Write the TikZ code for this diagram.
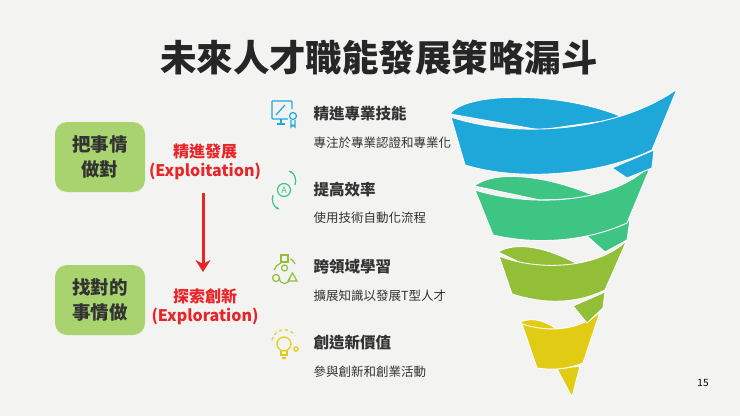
\documentclass[tikz,border=0pt]{standalone}
\usepackage{fontspec}
\setmainfont{Noto Sans CJK TC}
\usetikzlibrary{arrows.meta}
\definecolor{bg}{HTML}{F3F3F2}
\definecolor{fblue}{HTML}{1EA8DA}
\definecolor{fgreen}{HTML}{3EC584}
\definecolor{fyg}{HTML}{93BE38}
\definecolor{fyel}{HTML}{E2CB14}
\definecolor{boxg}{HTML}{A8D36E}
\definecolor{tred}{HTML}{E8262A}
\definecolor{tdark}{HTML}{333333}
\tikzset{
 band/.style={draw=white,line width=0.9pt,line join=round},
 gbox/.style={fill=boxg,rounded corners=12pt,minimum width=90pt,minimum height=70pt,align=center,font=\fontsize{18.5}{25}\selectfont\bfseries,text=tdark},
 redlab/.style={text=tred,font=\fontsize{16}{19}\selectfont\bfseries,align=center},
 itemt/.style={anchor=west,text=tdark,font=\fontsize{15.5}{18}\selectfont\bfseries},
 items/.style={anchor=west,text=tdark,font=\fontsize{12.5}{14}\selectfont},
 ic/.style={line width=1.2pt}
}
\begin{document}
\begin{tikzpicture}[x=1pt,y=-1pt]
\fill[bg] (0,0) rectangle (740,416);
\useasboundingbox (0,0) rectangle (740,416);
\node[font=\fontsize{36.5}{40}\selectfont\bfseries,text=black!85] (title) at (379,58) {未來人才職能發展策略漏斗};
% left
\node[gbox] (b1) at (100,157) {把事情\\做對};
\node[gbox] (b2) at (100,300) {找對的\\事情做};
\node[redlab] (r1) at (205,162) {精進發展\\(Exploitation)};
\node[redlab] (r2) at (205,307) {探索創新\\(Exploration)};
\coordinate (a1) at (203,193);
\coordinate (a2) at (203,272);
\draw[tred,line width=3pt,-{Stealth[length=12pt,width=15pt]}] (a1) -- (a2);
% items
\node[itemt] (t1) at (310,114) {精進專業技能};
\node[items] (s1) at (310,143) {專注於專業認證和專業化};
\node[itemt] (t2) at (310,190) {提高效率};
\node[items] (s2) at (310,218) {使用技術自動化流程};
\node[itemt] (t3) at (310,267) {跨領域學習};
\node[items] (s3) at (310,296) {擴展知識以發展T型人才};
\node[itemt] (t4) at (310,343) {創造新價值};
\node[items] (s4) at (310,372) {參與創新和創業活動};
% icons
\begin{scope}[fblue,ic]
\draw[rounded corners=1pt] (272,101) -- (272,119) -- (288,119);
\draw[rounded corners=1pt] (292,109) -- (292,101) -- (272,101);
\draw (277,124) -- (285,124) (281,119) -- (281,124);
\draw (276,115) -- (285,105);
\draw (293,116) circle (3.5);
\draw (291,120) -- (291,127) -- (293,125) -- (295,127) -- (295,120);
\end{scope}
\begin{scope}[fgreen,ic]
\draw (284,190) circle (6.5);
\node[font=\fontsize{9}{9}\selectfont,text=fgreen] (ia) at (284,190) {A};
\draw[-{Stealth[length=4pt]}] (273,195) arc (200:110:11);
\draw[-{Stealth[length=4pt]}] (295,185) arc (20:-70:11);
\end{scope}
\begin{scope}[fyg,ic]
\draw (281,255) rectangle (288,262);
\draw (284.5,268) circle (3);
\draw (279,278) arc (180:0:5.5);
\draw (276,278) circle (3.5);
\draw (288,281) -- (297,281) -- (292.5,273) -- cycle;
\draw (274,270) arc (200:250:12);
\draw (295,264) arc (-20:-60:10);
\end{scope}
\begin{scope}[fyel,ic]
\draw (284,344) circle (7);
\draw (281,351) -- (281,355) -- (287,355) -- (287,351);
\draw (282,358) -- (286,358);
\draw[dashed] (272,340) arc (190:330:12.5);
\draw (296,349) circle (2.2);
\end{scope}
% funnel: yellow
\fill[fyel,band] (557,369) -- (580,366) -- (572,397) -- cycle;
\fill[fyel,band] (520,322) .. controls (535,316) and (548,322) .. (565,335) -- (540,340) -- cycle;
\fill[fyel,band] (522,324) .. controls (550,333) and (580,330) .. (600,312) -- (583,363) .. controls (565,370) and (550,370) .. (537,368) -- cycle;
% yellow-green
\fill[fyg,band] (573,306) -- (605,292) -- (603,308) -- (587,323) -- cycle;
\fill[fyg,band] (498,252) .. controls (515,242) and (545,245) .. (585,268) -- (540,272) -- cycle;
\fill[fyg,band] (499,256) .. controls (540,272) and (600,268) .. (627,240) -- (605,290) .. controls (580,302) and (550,306) .. (512,294) -- cycle;
% green
\fill[fgreen,band] (587,236) -- (630,220) -- (627,240) -- (605,252) -- cycle;
\fill[fgreen,band] (474,186) .. controls (495,170) and (545,174) .. (600,198) -- (540,200) -- cycle;
\fill[fgreen,band] (475,190) .. controls (540,210) and (620,200) .. (652,163) -- (627,223) .. controls (590,240) and (540,246) .. (493,235) -- cycle;
% blue
\fill[fblue,band] (612,168) -- (654,150) -- (652,168) -- (627,178) -- cycle;
\fill[fblue,band] (450,114) .. controls (465,92) and (560,90) .. (625,118) -- (540,130) -- cycle;
\fill[fblue,band] (451,117) .. controls (520,140) and (620,130) .. (677,89) -- (652,150) .. controls (600,175) and (520,182) .. (465,165) -- cycle;
\node[font=\fontsize{10}{10}\selectfont,text=black] (pg) at (703,383) {15};
\end{tikzpicture}
\end{document}
